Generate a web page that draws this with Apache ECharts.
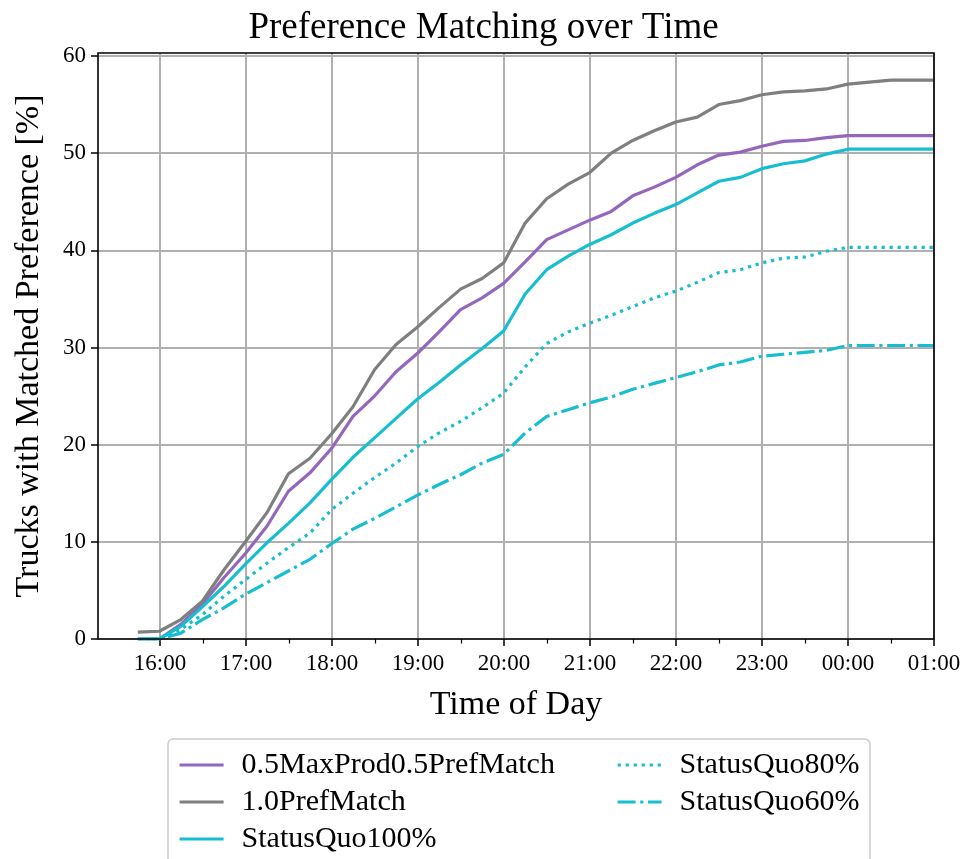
<!DOCTYPE html>
<html>
<head>
<meta charset="utf-8">
<script src="https://cdn.jsdelivr.net/npm/echarts@6/dist/echarts.min.js"></script>
<style>
  html, body { margin: 0; padding: 0; background: #ffffff; }
  #chart { width: 967px; height: 859px; }
</style>
</head>
<body>
<div id="chart"></div>
<script>
// Sample times (every 15 minutes, evening into the next night)
const times = [
  '15:45', '16:00', '16:15', '16:30', '16:45', '17:00', '17:15', '17:30', '17:45',
  '18:00', '18:15', '18:30', '18:45', '19:00', '19:15', '19:30', '19:45',
  '20:00', '20:15', '20:30', '20:45', '21:00', '21:15', '21:30', '21:45',
  '22:00', '22:15', '22:30', '22:45', '23:00', '23:15', '23:30', '23:45',
  '00:00', '00:15', '00:30', '00:45', '01:00'
];

// Share of trucks with a matched preference [%]
const mixedMatch = [
  0, 0, 1.5, 3.6, 6.3, 8.8, 11.6, 15.2, 17.1,
  19.6, 22.9, 25.0, 27.5, 29.4, 31.6, 33.9, 35.1,
  36.6, 38.8, 41.1, 42.1, 43.1, 44.0, 45.6, 46.5,
  47.5, 48.8, 49.8, 50.1, 50.7, 51.2, 51.3, 51.6,
  51.8, 51.8, 51.8, 51.8, 51.8
];
const prefMatch = [
  0.7, 0.8, 2.0, 3.9, 7.1, 10.0, 13.0, 17.0, 18.6,
  21.1, 23.9, 27.7, 30.3, 32.1, 34.1, 36.0, 37.1,
  38.7, 42.8, 45.3, 46.8, 48.0, 50.0, 51.3, 52.3,
  53.2, 53.7, 55.0, 55.4, 56.0, 56.3, 56.4, 56.6,
  57.1, 57.3, 57.5, 57.5, 57.5
];
const statusQuo100 = [
  0, 0, 1.3, 3.3, 5.4, 7.7, 9.9, 11.9, 14.0,
  16.4, 18.7, 20.7, 22.7, 24.7, 26.4, 28.2, 29.9,
  31.7, 35.5, 38.0, 39.4, 40.6, 41.6, 42.8, 43.8,
  44.7, 45.9, 47.1, 47.5, 48.4, 48.9, 49.2, 49.9,
  50.4, 50.4, 50.4, 50.4, 50.4
];
const statusQuo80 = [
  0, 0, 1.0, 2.5, 4.4, 6.1, 7.8, 9.4, 10.9,
  13.3, 15.0, 16.6, 18.1, 19.8, 21.2, 22.4, 23.8,
  25.3, 28.0, 30.4, 31.6, 32.5, 33.3, 34.2, 35.1,
  35.8, 36.7, 37.7, 38.0, 38.7, 39.2, 39.3, 39.9,
  40.3, 40.3, 40.3, 40.3, 40.3
];
const statusQuo60 = [
  0, 0, 0.6, 2.0, 3.2, 4.6, 5.8, 7.0, 8.2,
  9.8, 11.3, 12.4, 13.6, 14.8, 15.9, 16.9, 18.1,
  19.0, 21.2, 22.9, 23.6, 24.3, 24.9, 25.7, 26.3,
  26.9, 27.5, 28.2, 28.5, 29.1, 29.3, 29.5, 29.7,
  30.2, 30.2, 30.2, 30.2, 30.2
];

const seriesNames = [
  '0.5MaxProd0.5PrefMatch', '1.0PrefMatch', 'StatusQuo100%', 'StatusQuo80%', 'StatusQuo60%'
];

// Tick labels
const hourLabels = ['16:00', '17:00', '18:00', '19:00', '20:00', '21:00', '22:00', '23:00', '00:00', '01:00'];
const yTickValues = [0, 10, 20, 30, 40, 50, 60];

const FONT = '"Liberation Serif", "DejaVu Serif", serif';
const PURPLE = '#9467bd', GREY = '#7f7f7f', CYAN = '#17becf';
const GRID_COLOR = '#b0b0b0';
const LINE_W = 3.2;

// Hours since 16:00, continuing past midnight
function hoursSince16(t) {
  const [h, m] = t.split(':').map(Number);
  let v = h + m / 60 - 16;
  if (v < -6) v += 24;
  return v;
}
const xs = times.map(hoursSince16);
const pairs = (vals) => vals.map((v, i) => [xs[i], v]);

const plot = { left: 98, right: 33, top: 53, bottom: 220 };

const chart = echarts.init(document.getElementById('chart'), null, { renderer: 'canvas' });

function lineSeries(name, values, color, type) {
  return {
    name, type: 'line', xAxisIndex: 0, yAxisIndex: 0,
    data: pairs(values),
    showSymbol: false, symbol: 'none', smooth: false,
    lineStyle: { color, width: LINE_W, type, cap: 'butt' },
    itemStyle: { color },
    emphasis: { disabled: true },
    animation: false,
    z: 3
  };
}

const legendCommon = {
  orient: 'vertical', top: 750, padding: 0,
  itemWidth: 44, itemHeight: 14, itemGap: 7,
  itemStyle: { opacity: 0 },
  lineStyle: { width: LINE_W },
  textStyle: { fontFamily: FONT, fontSize: 30, lineHeight: 30, color: '#000', padding: [0, 0, 0, 13] },
  selectedMode: false
};

const option = {
  backgroundColor: '#ffffff',
  animation: false,
  title: {
    text: 'Preference Matching over Time',
    left: 'center',
    top: 5,
    textStyle: { fontFamily: FONT, fontSize: 37, fontWeight: 'normal', color: '#000' }
  },
  grid: [
    // data area
    { left: plot.left, right: plot.right, top: plot.top, bottom: plot.bottom, containLabel: false },
    // hour ticks / vertical grid lines, aligned on 16:00 .. 01:00
    { left: 160, right: plot.right, top: plot.top, bottom: plot.bottom, containLabel: false }
  ],
  xAxis: [
    {
      type: 'value', gridIndex: 0, min: -0.7125, max: 9,
      name: 'Time of Day', nameLocation: 'middle', nameGap: 49,
      nameTextStyle: { fontFamily: FONT, fontSize: 34, color: '#000' },
      axisLine: { show: false, onZero: false },
      axisTick: { show: false }, axisLabel: { show: false }, splitLine: { show: false }
    },
    {
      type: 'value', gridIndex: 1, min: 0, max: 9, interval: 1,
      axisLine: { show: false, onZero: false },
      axisTick: { show: true, length: 7, lineStyle: { color: '#000', width: 1.5 } },
      minorTick: { show: true, splitNumber: 2, length: 4.5, lineStyle: { color: '#000', width: 1.2 } },
      axisLabel: {
        margin: 13, fontFamily: FONT, fontSize: 23, color: '#000',
        formatter: (v) => hourLabels[Math.round(v)]
      },
      splitLine: { show: true, lineStyle: { color: GRID_COLOR, width: 2 } }
    }
  ],
  yAxis: [
    {
      type: 'value', gridIndex: 0, min: 0, max: 60.3, interval: 10,
      name: 'Trucks with Matched Preference [%]', nameLocation: 'middle', nameGap: 52,
      nameTextStyle: { fontFamily: FONT, fontSize: 34, color: '#000' },
      axisLine: { show: false, onZero: false },
      axisTick: { show: true, inside: false, length: 7, lineStyle: { color: '#000', width: 1.5 },
                  customValues: yTickValues },
      axisLabel: { margin: 12, fontFamily: FONT, fontSize: 23, color: '#000',
                   customValues: yTickValues },
      splitLine: { show: true, lineStyle: { color: GRID_COLOR, width: 2 } }
    },
    {
      type: 'value', gridIndex: 1, min: 0, max: 60.3, show: false,
      axisLine: { show: false, onZero: false }, axisTick: { show: false }, axisLabel: { show: false },
      splitLine: { show: false }
    }
  ],
  legend: [
    Object.assign({ left: 178, data: seriesNames.slice(0, 3) }, legendCommon),
    Object.assign({ left: 616, data: seriesNames.slice(3) }, legendCommon)
  ],
  graphic: [
    // legend frame
    { type: 'rect', z: -10, shape: { x: 168, y: 739, width: 702, height: 150, r: 5 },
      style: { fill: '#ffffff', stroke: '#cccccc', lineWidth: 1.5 } },
    // axes frame
    { type: 'rect', z: 100, silent: true,
      shape: { x: plot.left, y: plot.top, width: 967 - plot.left - plot.right, height: 859 - plot.top - plot.bottom },
      style: { fill: 'none', stroke: '#000000', lineWidth: 1.6 } }
  ],
  series: [
    lineSeries(seriesNames[0], mixedMatch, PURPLE, 'solid'),
    lineSeries(seriesNames[1], prefMatch, GREY, 'solid'),
    lineSeries(seriesNames[2], statusQuo100, CYAN, 'solid'),
    lineSeries(seriesNames[3], statusQuo80, CYAN, [3.2, 4.8]),
    lineSeries(seriesNames[4], statusQuo60, CYAN, [18, 4.6, 3.2, 4.6])
  ]
};

chart.setOption(option);
</script>
</body>
</html>
